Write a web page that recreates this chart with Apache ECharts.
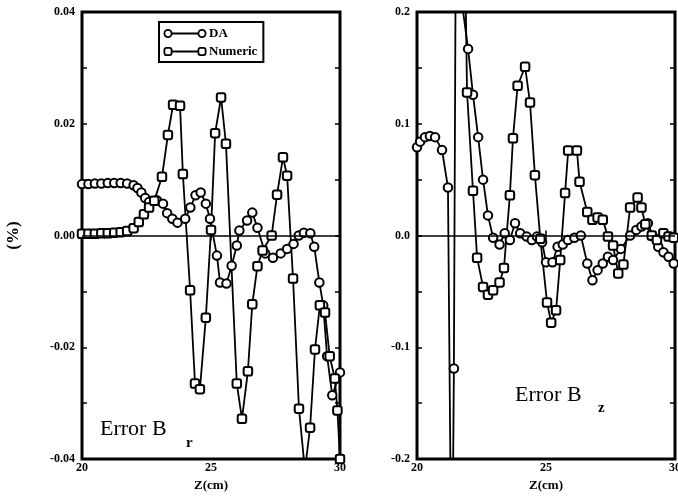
<!DOCTYPE html>
<html>
<head>
<meta charset="utf-8">
<script src="https://cdn.jsdelivr.net/npm/echarts@6/dist/echarts.min.js"></script>
<style>
  html, body { margin: 0; padding: 0; background: #fff; }
  #chart { width: 678px; height: 502px; }
</style>
</head>
<body>
<div id="chart"></div>
<script>
// left panel (Error B r), z in cm, error in %
const leftDaZ = [20.0,20.25,20.5,20.75,21.0,21.25,21.5,21.75,22.0,22.15,22.3,22.45,22.6,22.9,23.14,23.3,23.5,23.7,24.0,24.2,24.4,24.6,24.8,24.96,25.23,25.35,25.6,25.8,26.0,26.1,26.4,26.6,26.8,27.1,27.4,27.7,27.95,28.2,28.4,28.6,28.85,29.0,29.2,29.35,29.5,29.7,30.0];
const leftDaV = [0.0092,0.0092,0.0093,0.0093,0.0094,0.0094,0.0094,0.0093,0.009,0.0085,0.0077,0.0067,0.006,0.0063,0.0057,0.004,0.003,0.0023,0.003,0.005,0.0072,0.0077,0.0057,0.003,-0.0036,-0.0084,-0.0086,-0.0054,-0.0018,0.0009,0.0027,0.0041,0.0014,-0.0032,-0.004,-0.0032,-0.0024,-0.0015,0.0,0.0005,0.0004,-0.002,-0.0084,-0.0125,-0.0216,-0.0286,-0.0245];
const leftNumZ = [20.0,20.25,20.5,20.75,21.0,21.25,21.5,21.75,22.0,22.2,22.4,22.6,22.8,23.1,23.33,23.53,23.8,23.91,24.19,24.38,24.57,24.8,25.0,25.16,25.39,25.58,26.0,26.2,26.43,26.6,26.8,27.0,27.35,27.56,27.79,27.95,28.18,28.41,28.64,28.84,29.03,29.22,29.42,29.6,29.8,29.9,30.0];
const leftNumV = [0.0003,0.0003,0.0003,0.0004,0.0004,0.0005,0.0006,0.0008,0.0013,0.0024,0.0038,0.005,0.0062,0.0105,0.018,0.0234,0.0232,0.011,-0.0098,-0.0265,-0.0275,-0.0147,0.001,0.0183,0.0247,0.0164,-0.0265,-0.0328,-0.0243,-0.0123,-0.0055,-0.0027,0.0,0.0073,0.014,0.0107,-0.0077,-0.031,-0.042,-0.0344,-0.0204,-0.0125,-0.0138,-0.0216,-0.0256,-0.0313,-0.04];

// right panel (Error B z)
const rightDaZ = [20.0,20.12,20.31,20.5,20.7,20.97,21.2,21.35,21.43,21.5,21.98,22.17,22.37,22.56,22.75,22.95,23.2,23.4,23.6,23.8,24.0,24.25,24.45,24.65,24.85,25.0,25.25,25.45,25.65,25.85,26.1,26.35,26.6,26.8,27.0,27.2,27.4,27.6,27.9,28.26,28.5,28.7,28.95,29.15,29.35,29.55,29.75,29.95];
const rightDaV = [0.079,0.084,0.088,0.089,0.088,0.0765,0.043,-0.35,-0.119,0.25,0.167,0.126,0.088,0.05,0.018,-0.002,-0.008,0.002,-0.004,0.011,0.002,-0.001,-0.004,-0.001,-0.006,-0.024,-0.024,-0.01,-0.008,-0.004,-0.002,0.0,-0.025,-0.04,-0.031,-0.025,-0.019,-0.022,-0.012,0.0,0.005,0.008,0.011,-0.001,-0.01,-0.015,-0.019,-0.025];
const rightNumZ = [21.8,21.94,22.17,22.33,22.56,22.75,22.95,23.2,23.37,23.6,23.72,23.9,24.19,24.38,24.57,24.78,25.04,25.2,25.39,25.55,25.74,25.86,26.2,26.3,26.6,26.8,27.0,27.2,27.4,27.6,27.8,28.0,28.26,28.55,28.7,28.85,29.1,29.3,29.55,29.75,29.95];
const rightNumV = [0.35,0.128,0.04,-0.02,-0.046,-0.053,-0.049,-0.042,-0.029,0.036,0.087,0.134,0.151,0.119,0.054,-0.003,-0.06,-0.078,-0.067,-0.022,0.038,0.076,0.076,0.048,0.021,0.014,0.016,0.014,-0.001,-0.009,-0.034,-0.026,0.025,0.034,0.025,0.01,0.0,-0.004,0.002,-0.001,-0.002];

const xTicks = [20, 25, 30];
const legendNames = ['DA', 'Numeric'];

const FONT = 'Liberation Serif';
const BLACK = '#000';

const zip = (xs, ys) => xs.map((x, i) => [x, ys[i]]);

// legend icons: marker - line - marker
const svgIcon = (shape) => {
  const m = shape === 'circle'
    ? '<circle cx="5" cy="6" r="3.6" fill="#fff" stroke="#000" stroke-width="1.8"/><circle cx="39" cy="6" r="3.6" fill="#fff" stroke="#000" stroke-width="1.8"/>'
    : '<rect x="1.4" y="2.4" width="7.2" height="7.2" rx="2" fill="#fff" stroke="#000" stroke-width="1.8"/><rect x="35.4" y="2.4" width="7.2" height="7.2" rx="2" fill="#fff" stroke="#000" stroke-width="1.8"/>';
  const svg = '<svg xmlns="http://www.w3.org/2000/svg" width="44" height="12"><line x1="8" y1="6" x2="36" y2="6" stroke="#000" stroke-width="1.8"/>' + m + '</svg>';
  return 'image://data:image/svg+xml;charset=utf-8,' + encodeURIComponent(svg);
};

const tickLabel = { fontFamily: FONT, fontWeight: 'bold', fontSize: 12, color: BLACK };

const xAxisPair = (gridIndex) => [
  {
    type: 'value', gridIndex: gridIndex, min: 20, max: 30, interval: 5,
    position: 'bottom',
    name: 'Z(cm)', nameLocation: 'middle', nameGap: 20,
    nameTextStyle: { fontFamily: FONT, fontWeight: 'bold', fontSize: 13, color: BLACK },
    axisLine: { show: false },
    axisTick: { inside: true, length: 5, lineStyle: { color: BLACK, width: 1.5 } },
    axisLabel: { margin: 3, formatter: v => xTicks.includes(v) ? String(v) : '', ...tickLabel },
    splitLine: { show: false }
  },
  {
    type: 'value', gridIndex: gridIndex, min: 20, max: 30, interval: 5,
    position: 'top',
    axisLine: { show: false },
    axisTick: { inside: true, length: 5, lineStyle: { color: BLACK, width: 1.5 } },
    axisLabel: { show: false },
    splitLine: { show: false }
  }
];

const yAxisPair = (gridIndex, min, max, step, digits, withName) => {
  const label = v => {
    const k = Math.round(v / step);
    return k % 2 === 0 ? (Math.abs(v) < 1e-9 ? (0).toFixed(digits) : v.toFixed(digits)) : '';
  };
  return [
    {
      type: 'value', gridIndex: gridIndex, min: min, max: max, interval: step,
      position: 'left',
      name: withName ? '(%)' : '', nameLocation: 'middle', nameGap: 60, nameRotate: 90,
      nameTextStyle: { fontFamily: FONT, fontWeight: 'bold', fontSize: 17, color: BLACK },
      axisLine: { show: false },
      axisTick: { inside: true, length: 5, lineStyle: { color: BLACK, width: 1.5 } },
      axisLabel: { margin: 7, formatter: label, ...tickLabel },
      splitLine: { show: false }
    },
    {
      type: 'value', gridIndex: gridIndex, min: min, max: max, interval: step,
      position: 'right',
      axisLine: { show: false },
      axisTick: { inside: true, length: 5, lineStyle: { color: BLACK, width: 1.5 } },
      axisLabel: { show: false },
      splitLine: { show: false }
    }
  ];
};

const zeroLine = {
  silent: true, symbol: ['none', 'none'],
  label: { show: false },
  lineStyle: { color: BLACK, width: 1.5, type: 'solid' },
  data: [{ yAxis: 0 }]
};

const makeSeries = (name, data, xi, yi, symbol, withZero) => ({
  type: 'line', name: name, data: data,
  xAxisIndex: xi, yAxisIndex: yi,
  symbol: symbol, symbolSize: 8.5, showAllSymbol: true,
  clip: true,
  lineStyle: { color: BLACK, width: 1.8 },
  itemStyle: { color: '#fff', borderColor: BLACK, borderWidth: 2 },
  emphasis: { disabled: true },
  markLine: withZero ? zeroLine : undefined,
  z: 3
});

const chart = echarts.init(document.getElementById('chart'), null, { renderer: 'canvas' });

chart.setOption({
  animation: false,
  backgroundColor: '#fff',
  grid: [
    { left: 82, top: 12, width: 258, height: 447, show: true, borderColor: BLACK, borderWidth: 3, backgroundColor: 'transparent', outerBoundsMode: 'none' },
    { left: 417, top: 12, width: 258, height: 447, show: true, borderColor: BLACK, borderWidth: 3, backgroundColor: 'transparent', outerBoundsMode: 'none' }
  ],
  xAxis: [...xAxisPair(0), ...xAxisPair(1)],
  yAxis: [...yAxisPair(0, -0.04, 0.04, 0.01, 2, true), ...yAxisPair(1, -0.2, 0.2, 0.05, 1, false)],
  legend: {
    left: 159, top: 22, orient: 'vertical',
    data: [
      { name: legendNames[0], icon: svgIcon('circle') },
      { name: legendNames[1], icon: svgIcon('rect') }
    ],
    itemWidth: 44, itemHeight: 12, itemGap: 5,
    padding: [5, 6, 4, 4],
    borderColor: BLACK, borderWidth: 2, backgroundColor: '#fff',
    selectedMode: false,
    textStyle: { fontFamily: FONT, fontWeight: 'bold', fontSize: 13, color: BLACK, padding: [0, 0, 0, -3] }
  },
  graphic: [
    { type: 'text', left: 100, top: 418, style: { text: 'Error B', fontFamily: FONT, fontSize: 22, fill: BLACK } },
    { type: 'text', left: 186, top: 436, style: { text: 'r', fontFamily: FONT, fontWeight: 'bold', fontSize: 15, fill: BLACK } },
    { type: 'text', left: 515, top: 384, style: { text: 'Error B', fontFamily: FONT, fontSize: 22, fill: BLACK } },
    { type: 'text', left: 598, top: 401, style: { text: 'z', fontFamily: FONT, fontWeight: 'bold', fontSize: 15, fill: BLACK } }
  ],
  series: [
    makeSeries('DA', zip(leftDaZ, leftDaV), 0, 0, 'circle', true),
    makeSeries('Numeric', zip(leftNumZ, leftNumV), 0, 0, 'roundRect', false),
    makeSeries('DA', zip(rightDaZ, rightDaV), 2, 2, 'circle', true),
    makeSeries('Numeric', zip(rightNumZ, rightNumV), 2, 2, 'roundRect', false)
  ]
});
</script>
</body>
</html>
